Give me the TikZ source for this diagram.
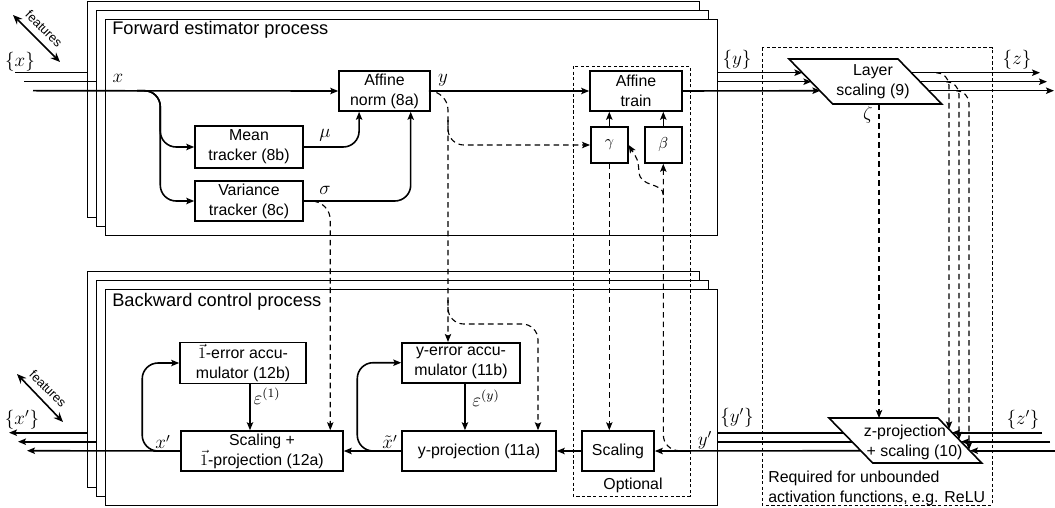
\documentclass[tikz,border=0pt]{standalone}
\usepackage{amsmath,amssymb}
\usepackage{fontspec}
\setmainfont{Liberation Sans}
\usetikzlibrary{arrows.meta}

\begin{document}
\begin{tikzpicture}[x=0.63pt,y=-0.63pt,>={Stealth[length=5pt,width=4pt,inset=1pt]},
font=\fontsize{10}{12.5}\selectfont,
sheet/.style={draw,fill=white,line width=0.6pt},
blk/.style={draw,line width=1pt,align=center,inner sep=1pt,minimum height=25.2pt},
lbl/.style={inner sep=1pt,font=\fontsize{12}{14}\selectfont},
sig/.style={->,line width=1pt},
flow/.style={->,dash pattern=on 3.5pt off 2.5pt,line width=0.7pt},
area/.style={dash pattern=on 2pt off 1.5pt,line width=0.6pt}]
\useasboundingbox(0,0)rectangle(1055,507);
% stacked sheets
\foreach\d in{0,9,18}{
\draw[sheet](87.3+\d,1+\d)rectangle(699+\d,217+\d);
\draw[sheet](87.3+\d,271+\d)rectangle(699+\d,487+\d);}
\node[anchor=west,inner sep=0pt,font=\fontsize{11.5}{14}\selectfont](fwd)at(112,30){Forward estimator process};
\node[anchor=west,inner sep=0pt,font=\fontsize{11.5}{14}\selectfont](bwd)at(112,302){Backward control process};
% blocks
\node[blk,minimum width=57.3pt](norm)at(384.5,91){Affine\\norm (8a)};
\node[blk,minimum width=68pt,minimum height=26.5pt](mean)at(249,147){Mean\\tracker (8b)};
\node[blk,minimum width=68pt](var)at(249,201){Variance\\tracker (8c)};
\node[blk,minimum width=58pt](train)at(636,91){Affine\\train};
\node[blk,minimum width=23.3pt,minimum height=22.7pt](gam)at(609.3,145){$\gamma$};
\node[blk,minimum width=23.3pt,minimum height=22.7pt](bet)at(663.3,145){$\beta$};
\node[blk,minimum width=45.4pt](scal)at(618,451){Scaling};
\node[blk,minimum width=97pt](yproj)at(479,451){y-projection (11a)};
\node[blk,minimum width=74.3pt](yerr)at(461,362.7){y-error accu-\\mulator (11b)};
\node[blk,minimum width=102pt](iproj)at(262,451){Scaling +\\$\vec{1}$-projection (12a)};
\node[blk,minimum width=79.4pt](ierr)at(243,363){$\vec{1}$-error accu-\\mulator (12b)};
% parallelograms
\coordinate(ls1)at(789,59);\coordinate(ls2)at(898,59);\coordinate(ls3)at(941.7,104);\coordinate(ls4)at(832.7,104);
\draw[line width=1pt](ls1)--(ls2)--(ls3)--(ls4)--cycle;
\node[align=center](ls)at(873,81.5){Layer\\scaling (9)};
\coordinate(zp1)at(829,418);\coordinate(zp2)at(938,418);\coordinate(zp3)at(981.7,463);\coordinate(zp4)at(872.7,463);
\draw[line width=1pt](zp1)--(zp2)--(zp3)--(zp4)--cycle;
\node[align=center](zp)at(905,442){z-projection\\\hspace*{1.2em}+ scaling (10)};
% dashed regions
\draw[area](573,66)rectangle(690,496);
\node(opt)at(633,485){Optional};
\draw[area](762,47.7)rectangle(992,505);
\node[anchor=west,align=left,inner sep=0pt](req)at(768,488){Required for unbounded\\activation functions, e.g. ReLU};
% bundles of features
\coordinate(sb1)at(87.3,0);\coordinate(sb2)at(96.3,0);\coordinate(sr)at(717,0);
\foreach\i in{1,2,3}{
\coordinate(xin\i)at(6+9*\i,63.7+9*\i);
\coordinate(lsl\i)at(793.4+9*\i,63.7+9*\i);
\coordinate(lsr\i)at(902.4+9*\i,63.7+9*\i);
\coordinate(zout\i)at(1033+7*\i,63.7+9*\i);
\coordinate(zpl\i)at(833.7+9*\i,423.7+9*\i);
\coordinate(zpr\i)at(943+9*\i,423.7+9*\i);
\coordinate(zin\i)at(1034+8*\i,423.7+9*\i);
\coordinate(xout\i)at(9*\i,423.7+9*\i);
\coordinate(zs\i)at(927+10*\i,63.7+9*\i);
\coordinate(ze\i)at(939+10*\i,419+10.3*\i);
\draw[sig](lsr\i)--(zout\i);
\draw[sig](zin\i)--(zpr\i);
\draw[flow,rounded corners=8](zs\i)-|(ze\i);}
\draw[line width=1pt](xin1)--(xin1-|sb1);
\draw[line width=1pt](xin2)--(xin2-|sb2);
\draw[sig](xin3)--(norm.west);
\draw[sig](lsl1-|sr)--(lsl1);
\draw[sig](lsl2-|sr)--(lsl2);
\draw[sig](train.east)--(lsl3);
\draw[line width=1pt](zpl1)--(zpl1-|sr);
\draw[line width=1pt](zpl2)--(zpl2-|sr);
\draw[sig](zpl3)--(scal.east);
\draw[sig](xout1-|sb1)--(xout1);
\draw[sig](xout2-|sb2)--(xout2);
\draw[sig](iproj.west)--(xout3);
% forward estimator
\coordinate(xb)at(137,90.7);
\draw[sig,rounded corners=10](xb)-|([xshift=-21.4pt]mean.west)--(mean.west);
\draw[sig,rounded corners=10](xb)-|([xshift=-21.4pt]var.west)--(var.west);
\draw[sig,rounded corners=10](mean.east)-|([xshift=-16pt]norm.south);
\draw[sig,rounded corners=10](var.east)-|([xshift=16.5pt]norm.south);
\draw[sig](norm.east)--(train.west);
\draw[sig](gam.north)--(gam.north|-train.south);
\draw[sig](bet.north)--(bet.north|-train.south);
% dashed signals
\coordinate(yb1)at(448,120);\coordinate(yb2)at(448,300);\coordinate(yt)at(538,324);
\draw[flow,rounded corners=12](norm.east)-|(yerr.north-|yb1);
\draw[flow,rounded corners=10](yb1)|-(gam.west);
\draw[flow,rounded corners=10](yb2)|-(yt)--(yt|-yproj.north);
\draw[flow,rounded corners=12](var.east)-|([xshift=43pt]iproj.north);
\draw[flow](gam.south)--(gam.south|-scal.north);
\coordinate(yq)at(680,450.7);\coordinate(bq)at(663.3,195);
\draw[flow,rounded corners=10](yq)-|(bet.south);
\draw[flow](bq)..controls(663.3,182)and(640,188)..(639,172)..controls(638,160)..(gam.east);
\coordinate(zt)at(879,104);
\draw[flow](zt)--(zt|-zp1);
% backward control
\coordinate(yl)at(376,451);\coordinate(il)at(165,451);
\coordinate(ea)at([xshift=2.5pt]yerr.south);\coordinate(eb)at([xshift=4.4pt]ierr.south);
\draw[sig](scal.west)--(yproj.east);
\draw[sig](yproj.west)--(iproj.east);
\draw[sig,rounded corners=10](yl)-|([xshift=-27.7pt]yerr.west)--(yerr.west);
\draw[sig,rounded corners=10](il)-|([xshift=-23.3pt]ierr.west)--(ierr.west);
\draw[sig](ea)--(ea|-yproj.north);
\draw[sig](eb)--(eb|-iproj.north);
% labels
\node[lbl](lx)at(20,62){$\{x\}$};
\node[lbl](lxx)at(118,78){$x$};
\node[lbl](lmu)at(325,135){$\mu$};
\node[lbl](lsig)at(325,190){$\sigma$};
\node[lbl](ly)at(443,80){$y$};
\node[lbl](lyy)at(737,60){$\{y\}$};
\node[lbl](lz)at(1017,60){$\{z\}$};
\node[lbl](lzeta)at(868,115){$\zeta$};
\node[lbl](lxp)at(22,420){$\{x'\}$};
\node[lbl](lxpp)at(163,442){$x'$};
\node[lbl](le1)at(267,396){$\varepsilon^{(1)}$};
\node[lbl](lxt)at(390,442){$\tilde{x}'$};
\node[lbl](ley)at(486,398){$\varepsilon^{(y)}$};
\node[lbl](lyp)at(705,440){$y'$};
\node[lbl](lypp)at(737,418){$\{y'\}$};
\node[lbl](lzp)at(1023,420){$\{z'\}$};
% feature axes
\coordinate(fa1)at(13,15);\coordinate(fb1)at(60,62);
\coordinate(fa2)at(17,374);\coordinate(fb2)at(63,422);
\draw[<->,line width=1pt,>={Stealth[length=6pt,width=5pt]}](fa1)--(fb1);
\draw[<->,line width=1pt,>={Stealth[length=6pt,width=5pt]}](fa2)--(fb2);
\node[rotate=-45,inner sep=0pt,font=\fontsize{8}{9}\selectfont](ft1)at(44,29){features};
\node[rotate=-45,inner sep=0pt,font=\fontsize{8}{9}\selectfont](ft2)at(48,389){features};
\end{tikzpicture}
\end{document}
